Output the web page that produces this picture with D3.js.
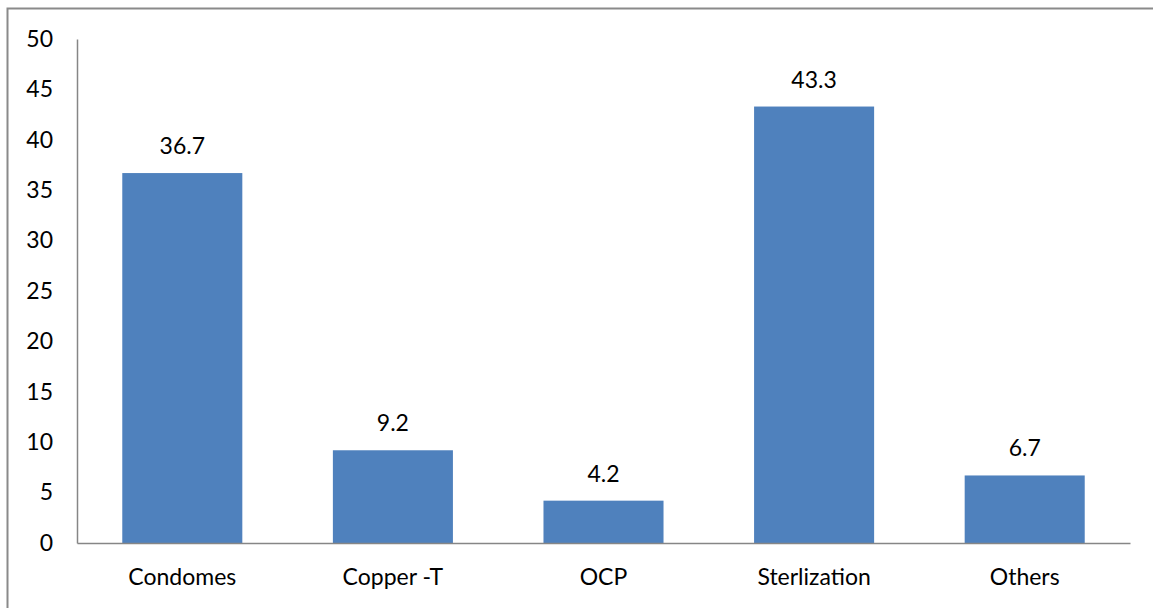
<!DOCTYPE html>
<html><head><meta charset="utf-8">
<script src="https://cdn.jsdelivr.net/npm/d3@7"></script>
<style>body{margin:0;background:#fff}svg{display:block}</style>
</head><body>
<svg id="c" width="1153" height="608"></svg>
<script>
const categories = ["Condomes","Copper -T","OCP","Sterlization","Others"];
const values = [36.7, 9.2, 4.2, 43.3, 6.7];
const yTicks = [0,5,10,15,20,25,30,35,40,45,50];

(function(){
const svg = d3.select("#c");
const font = "Lato, 'Open Sans', sans-serif";
const fs = 23;
svg.append("rect").attr("x",7.5).attr("y",8.5).attr("width",1160).attr("height",620)
  .attr("fill","#fff").attr("stroke","#8a8a8a").attr("stroke-width",2);

const mLeft=77, mRight=1130, mTop=39, mBottom=543;
const x = d3.scaleBand().domain(categories).range([mLeft,mRight]).paddingInner(0.43).paddingOuter(0.215);
const y = d3.scaleLinear().domain([0,50]).range([mBottom,mTop]);

svg.selectAll("rect.bar").data(values).enter().append("rect").attr("class","bar")
  .attr("x",(d,i)=>x(categories[i])).attr("width",x.bandwidth())
  .attr("y",d=>y(d)).attr("height",d=>y(0)-y(d)).attr("fill","#4F81BD");

svg.selectAll("text.lbl").data(values).enter().append("text").attr("class","lbl")
  .attr("x",(d,i)=>x(categories[i])+x.bandwidth()/2).attr("y",d=>y(d)-19)
  .attr("text-anchor","middle").attr("font-family",font).attr("font-size",fs).attr("fill","#000")
  .text(d=>d.toFixed(1));

const ya = svg.append("g").attr("transform",`translate(${mLeft},0)`)
  .call(d3.axisLeft(y).tickValues(yTicks).tickSize(0).tickPadding(24));
ya.select(".domain").attr("stroke","#868686").attr("stroke-width",1.5);
ya.selectAll("text").attr("font-family",font).attr("font-size",fs).attr("fill","#000");

const xa = svg.append("g").attr("transform",`translate(0,${mBottom})`)
  .call(d3.axisBottom(x).tickSize(0).tickPadding(26));
xa.select(".domain").attr("stroke","#868686").attr("stroke-width",1.5);
xa.selectAll("text").attr("font-family",font).attr("font-size",fs).attr("fill","#000");
})();
</script>
</body></html>
